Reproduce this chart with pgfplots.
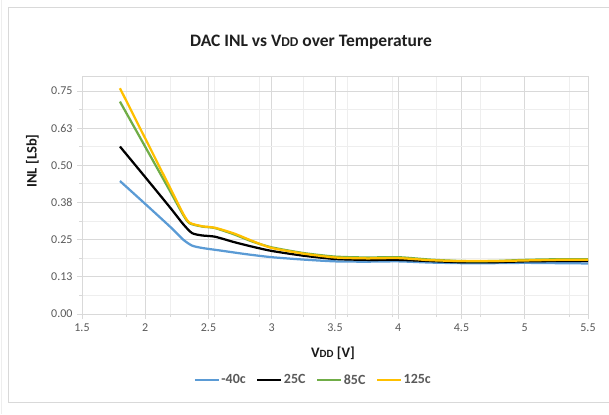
\documentclass[border=0pt]{standalone}
\usepackage{pgfplots}
\pgfplotsset{compat=1.18}
\usepackage{fontspec}
\setmainfont{Carlito}
\definecolor{tickgray}{HTML}{595959}
\definecolor{gridmaj}{HTML}{D9D9D9}
\definecolor{gridmin}{HTML}{EEEEEE}
\definecolor{framegray}{HTML}{D9D9D9}
\definecolor{cblue}{HTML}{5B9BD5}
\definecolor{cgreen}{HTML}{70AD47}
\definecolor{cyellow}{HTML}{FFC000}
\begin{document}
\begin{tikzpicture}[x=1bp,y=1bp]
\useasboundingbox (0,0) rectangle (609,-414);
\draw[color=framegray, line width=0.75bp] (640,-7.5) -- (8,-7.5) -- (8,-402) -- (640,-402);
\draw[color=gridmin, line width=0.75bp] (1,0) -- (1,-414);
\node[font=\bfseries\fontsize{17.5bp}{20bp}\selectfont, text=black!88] at (311,-42)
  {DAC INL vs V{\fontsize{13.5bp}{15bp}\selectfont DD} over Temperature};
\begin{axis}[
  at={(82bp,-314bp)}, anchor=south west,
  width=506bp, height=238bp, scale only axis,
  xmin=1.5, xmax=5.5, ymin=0, ymax=0.8,
  xtick={1.5,2,2.5,3,3.5,4,4.5,5,5.5},
  xticklabels={1.5,2,2.5,3,3.5,4,4.5,5,5.5},
  ytick={0,0.125,0.25,0.375,0.5,0.625,0.75},
  yticklabels={0.00,0.13,0.25,0.38,0.50,0.63,0.75},
  minor xtick={1.85,2.2,2.55,2.9,3.25,3.6,3.95,4.3,4.65,5.35},
  minor ytick={0.0625,0.1875,0.3125,0.4375,0.5625,0.6875},
  grid=both,
  major grid style={color=gridmaj, line width=0.75bp},
  minor grid style={color=gridmin, line width=0.75bp},
  axis line style={color=gridmaj, line width=0.75bp},
  every tick/.style={color=gridmaj, line width=0.75bp},
  tick align=outside, major tick length=5bp, minor tick length=3bp,
  tick pos=left,
  /pgf/number format/assume math mode=true,
  tick label style={font=\fontsize{12bp}{14bp}\selectfont, text=tickgray},
  xticklabel style={yshift=-1bp},
  yticklabel style={xshift=-1bp},
  xlabel={\bfseries V{\fontsize{11bp}{12bp}\selectfont DD} [V]},
  ylabel={\bfseries INL [LSb]},
  label style={font=\fontsize{14.5bp}{16bp}\selectfont, text=black!90},
  xlabel style={at={(axis description cs:0.496,-0.164)}, anchor=center},
  ylabel style={at={(axis description cs:-0.098,0.643)}, anchor=center, rotate=0},
  legend columns=4,
  legend style={at={(axis description cs:0.4565,-0.277)}, anchor=center,
    draw=none, fill=none, font=\bfseries\fontsize{14bp}{16bp}\selectfont, text=tickgray,
    nodes={inner xsep=1.5bp, inner ysep=1bp},
    /tikz/every even column/.append style={column sep=9bp}},
  legend image code/.code={\draw[#1] (0bp,0bp) -- (24bp,0bp);},
  every axis plot/.append style={line width=2.25bp, smooth, tension=0.4, no marks},
]
\addplot[color=cblue] coordinates {
(1.8,0.447)(2.0,0.370)(2.2,0.292)(2.3,0.250)(2.37,0.230)(2.45,0.222)(2.6,0.213)(2.8,0.201)(3.0,0.191)(3.25,0.183)(3.5,0.177)(3.75,0.176)(4.0,0.177)(4.25,0.173)(4.5,0.171)(4.75,0.171)(5.0,0.172)(5.25,0.171)(5.5,0.170)};
\addlegendentry{-40c}
\addplot[color=black] coordinates {
(1.8,0.563)(2.0,0.460)(2.2,0.356)(2.3,0.302)(2.37,0.272)(2.45,0.264)(2.55,0.260)(2.7,0.242)(2.85,0.226)(3.0,0.212)(3.25,0.196)(3.5,0.185)(3.75,0.182)(4.0,0.182)(4.25,0.178)(4.5,0.174)(4.75,0.174)(5.0,0.177)(5.25,0.178)(5.5,0.178)};
\addlegendentry{25C}
\addplot[color=cgreen] coordinates {
(1.8,0.714)(2.0,0.562)(2.2,0.410)(2.3,0.333)(2.35,0.305)(2.45,0.294)(2.55,0.289)(2.7,0.268)(2.85,0.243)(3.0,0.224)(3.25,0.205)(3.5,0.193)(3.75,0.190)(4.0,0.191)(4.25,0.183)(4.5,0.178)(4.75,0.178)(5.0,0.182)(5.25,0.184)(5.5,0.184)};
\addlegendentry{85C}
\addplot[color=cyellow] coordinates {
(1.8,0.759)(2.0,0.590)(2.2,0.421)(2.3,0.337)(2.35,0.307)(2.45,0.295)(2.55,0.290)(2.7,0.271)(2.85,0.245)(3.0,0.222)(3.25,0.203)(3.5,0.190)(3.75,0.187)(4.0,0.188)(4.25,0.181)(4.5,0.178)(4.75,0.178)(5.0,0.180)(5.25,0.182)(5.5,0.182)};
\addlegendentry{125c}
\end{axis}
\end{tikzpicture}
\end{document}
